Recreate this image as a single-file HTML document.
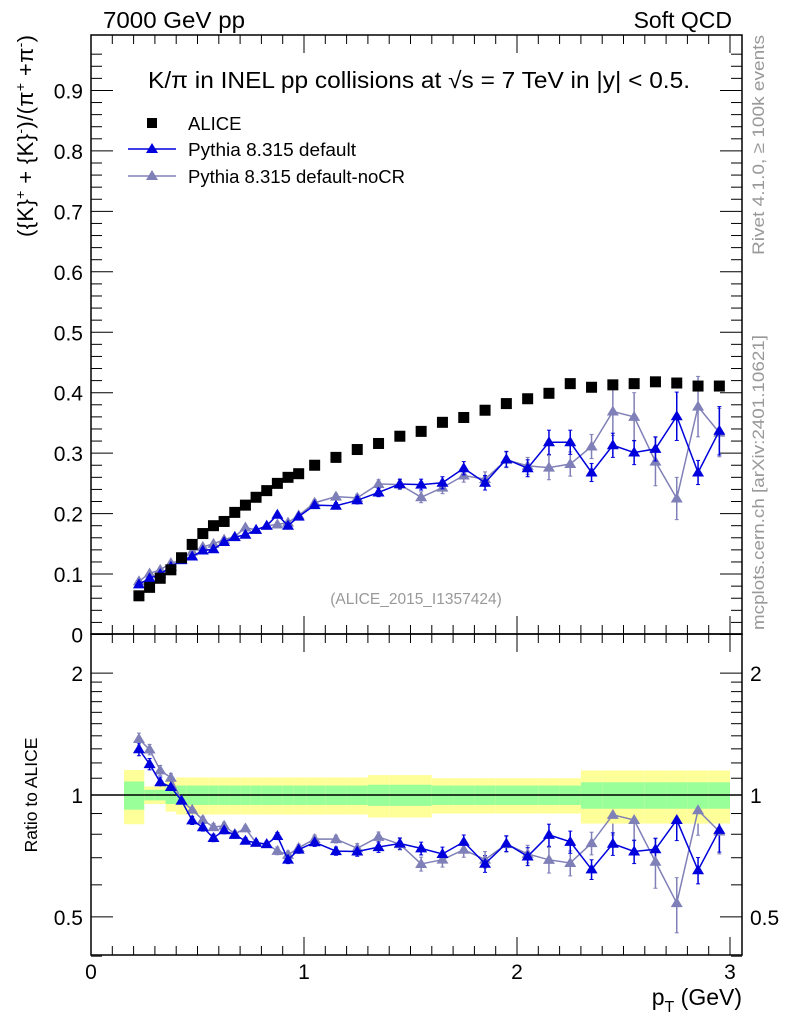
<!DOCTYPE html>
<html><head><meta charset="utf-8">
<style>
body{margin:0;background:#fff;}
svg{display:block;font-family:"Liberation Sans",Arial,sans-serif;}
</style></head>
<body>
<svg id="chart" width="786" height="1024" viewBox="0 0 786 1024" xmlns="http://www.w3.org/2000/svg">
<rect width="786" height="1024" fill="#fff"/>
<text x="103" y="28" font-size="23" textLength="142" lengthAdjust="spacingAndGlyphs">7000 GeV pp</text>
<text x="732" y="28" font-size="23" text-anchor="end">Soft QCD</text>
<g id="main"></g>
<g id="ratio"></g>
<text x="148" y="88" font-size="23" textLength="542" lengthAdjust="spacingAndGlyphs">K/π in INEL pp collisions at √s =  7 TeV in |y| &lt; 0.5.</text>
<text x="416" y="604" font-size="15.5" fill="#999" text-anchor="middle">(ALICE_2015_I1357424)</text>
<text transform="translate(33,237) rotate(-90)" font-size="22" textLength="202" lengthAdjust="spacing">({K}<tspan font-size="14" dy="-8">+</tspan><tspan dy="8"> + {K}</tspan><tspan font-size="14" dy="-8">-</tspan><tspan dy="8">)/(π</tspan><tspan font-size="14" dy="-8">+</tspan><tspan dy="8"> +π</tspan><tspan font-size="14" dy="-8">-</tspan><tspan dy="8">)</tspan></text>
<text transform="translate(37,795) rotate(-90)" font-size="17.5" text-anchor="middle">Ratio to ALICE</text>
<text x="742" y="1005" font-size="23" text-anchor="end">p<tspan font-size="16" dy="7">T</tspan><tspan dy="-7"> (GeV)</tspan></text>
<text transform="translate(764,255) rotate(-90)" font-size="17" fill="#999" textLength="220" lengthAdjust="spacingAndGlyphs">Rivet 4.1.0, ≥ 100k events</text>
<text transform="translate(764,630) rotate(-90)" font-size="17" fill="#999" textLength="295" lengthAdjust="spacingAndGlyphs">mcplots.cern.ch [arXiv:2401.10621]</text>
<g id="legend">
<rect x="147" y="118" width="10" height="10" fill="#000"/>
<text x="188" y="130" font-size="18.5">ALICE</text>
<line x1="128" y1="149" x2="176" y2="149" stroke="#0000dd" stroke-width="1.5"/>
<polygon points="152,143 158,153 146,153" fill="#0000dd"/>
<text x="188" y="156" font-size="18.5" textLength="168" lengthAdjust="spacingAndGlyphs">Pythia 8.315 default</text>
<line x1="128" y1="176" x2="176" y2="176" stroke="#8080b8" stroke-width="1.5"/>
<polygon points="152,170 158,180 146,180" fill="#8080b8"/>
<text x="188" y="183" font-size="18.5">Pythia 8.315 default-noCR</text>
</g>
</svg>
<script>
const ptBins=[0.225,0.275,0.325,0.375,0.425,0.475,0.525,0.575,0.625,0.675,0.725,0.775,0.825,0.875,0.925,0.975,1.05,1.15,1.25,1.35,1.45,1.55,1.65,1.75,1.85,1.95,2.05,2.15,2.25,2.35,2.45,2.55,2.65,2.75,2.85,2.95];
const aliceVals=[0.064,0.078,0.093,0.107,0.127,0.149,0.167,0.180,0.187,0.202,0.214,0.227,0.238,0.250,0.260,0.266,0.280,0.293,0.306,0.316,0.328,0.336,0.351,0.359,0.371,0.382,0.390,0.399,0.415,0.409,0.413,0.415,0.418,0.416,0.411,0.411];
const aliceTotErr=[0.153,0.05,0.05,0.09,0.105,0.105,0.105,0.105,0.105,0.105,0.105,0.105,0.105,0.105,0.105,0.105,0.105,0.105,0.105,0.12,0.12,0.12,0.10,0.10,0.10,0.10,0.10,0.10,0.10,0.15,0.15,0.15,0.15,0.15,0.15,0.15];
const aliceStatErr=[0.08,0.03,0.03,0.05,0.055,0.055,0.055,0.055,0.055,0.055,0.055,0.055,0.055,0.055,0.055,0.055,0.055,0.055,0.055,0.06,0.06,0.06,0.055,0.055,0.055,0.055,0.055,0.055,0.055,0.075,0.075,0.075,0.075,0.075,0.075,0.075];
const defaultVals=[0.083,0.093,0.100,0.112,0.123,0.129,0.139,0.141,0.153,0.161,0.165,0.173,0.180,0.198,0.180,0.195,0.214,0.213,0.222,0.235,0.249,0.248,0.251,0.275,0.251,0.290,0.275,0.318,0.318,0.268,0.313,0.301,0.307,0.361,0.268,0.337];
const defaultErr=[0.003,0.003,0.003,0.003,0.003,0.003,0.003,0.003,0.003,0.003,0.003,0.003,0.003,0.004,0.004,0.004,0.005,0.005,0.006,0.007,0.008,0.009,0.01,0.011,0.012,0.013,0.014,0.02,0.02,0.015,0.02,0.02,0.02,0.04,0.02,0.04];
const nocrVals=[0.088,0.101,0.107,0.118,0.123,0.137,0.145,0.150,0.157,0.162,0.177,0.173,0.180,0.182,0.185,0.197,0.218,0.228,0.226,0.249,0.248,0.227,0.243,0.263,0.257,0.289,0.279,0.276,0.282,0.311,0.369,0.360,0.286,0.225,0.377,0.334];
const nocrErr=[0.003,0.003,0.003,0.003,0.003,0.003,0.003,0.003,0.003,0.003,0.003,0.003,0.003,0.004,0.004,0.004,0.005,0.005,0.006,0.007,0.008,0.009,0.01,0.011,0.012,0.013,0.014,0.02,0.02,0.02,0.04,0.04,0.04,0.035,0.05,0.04];
const mainTicks=[0,0.1,0.2,0.3,0.4,0.5,0.6,0.7,0.8,0.9];
const ratioMajor=[0.5,1,2];
const xTicks=[0,1,2,3];

const NS="http://www.w3.org/2000/svg";
const L=91,R=742,MT=35,MB=634,RB=955;
const X=v=>L+v*213;
const YM=v=>634.5-v*604.5;
const YR=v=>795-405*Math.log10(v);
function mk(tag,attrs,parent){const e=document.createElementNS(NS,tag);for(const k in attrs)e.setAttribute(k,attrs[k]);parent.appendChild(e);return e;}
const main=document.getElementById('main'),ratio=document.getElementById('ratio');

for(let i=0;i<ptBins.length;i++){
  const lo=i==0?0.155:(ptBins[i]+ptBins[i-1])/2;
  const hi=i==ptBins.length-1?3.0:(ptBins[i]+ptBins[i+1])/2;
  const t=aliceTotErr[i],s=aliceStatErr[i];
  const y=mk('rect',{x:X(lo),y:YR(1+t),width:X(hi)-X(lo),height:YR(1-t)-YR(1+t),fill:'#ffff99'},ratio);
  
  
  const g=mk('rect',{x:X(lo),y:YR(1+s),width:X(hi)-X(lo),height:YR(1-s)-YR(1+s),fill:'#99ff99'},ratio);
  
  
}
mk('line',{x1:L,x2:R,y1:YR(1),y2:YR(1),stroke:'#000','stroke-width':1.5},ratio);

const f1=mk('rect',{x:L,y:MT,width:R-L,height:MB-MT,fill:'none',stroke:'#000','stroke-width':1.5},main);


const f2=mk('rect',{x:L,y:MB,width:R-L,height:RB-MB,fill:'none',stroke:'#000','stroke-width':1.5},ratio);



for(let v=0;v<=0.98;v+=0.02){
  const maj=Math.abs(v*10-Math.round(v*10))<1e-6, len=maj?22:11, y=YM(v);
  mk('line',{x1:L,x2:L+len,y1:y,y2:y,stroke:'#000'},main);
  mk('line',{x1:R,x2:R-len,y1:y,y2:y,stroke:'#000'},main);
}
mainTicks.forEach(v=>{
  const t=mk('text',{x:L-8,y:YM(v)+8,'font-size':21,'text-anchor':'end'},main);
  t.textContent=v===0?'0':v.toFixed(1);
  
  
});
for(let v=0;v<=3.01;v+=0.1){
  const maj=Math.abs(v-Math.round(v))<1e-6,len=maj?18:9,x=X(v);
  [[MT,1],[MB,-1],[MB,1],[RB,-1]].forEach(([y0,d])=>mk('line',{x1:x,x2:x,y1:y0,y2:y0+d*len,stroke:'#000'},main));
}
xTicks.forEach(v=>{
  const t=mk('text',{x:X(v),y:979,'font-size':21,'text-anchor':'middle'},ratio);
  t.textContent=String(v);
  
  
});
[0.4,0.5,0.6,0.7,0.8,0.9,1,1.1,1.2,1.3,1.4,1.5,1.6,1.7,1.8,1.9,2].forEach(v=>{
  const maj=ratioMajor.includes(v),len=maj?22:11,y=YR(v);
  mk('line',{x1:L,x2:L+len,y1:y,y2:y,stroke:'#000'},ratio);
  mk('line',{x1:R,x2:R-len,y1:y,y2:y,stroke:'#000'},ratio);
});
ratioMajor.forEach(v=>{
  [[L-8,'end'],[R+8,'start']].forEach(([x,a])=>{
    const t=mk('text',{x:x,y:YR(v)+8,'font-size':21,'text-anchor':a},ratio);
    t.textContent=String(v);
    
    
  });
});

function tri(x,y,c,p,name){
  const t=mk('polygon',{points:`${x},${y-6} ${x+6},${y+4} ${x-6},${y+4}`,fill:c},p);
  
  
}
function series(vals,errs,color,name){
  let pm=[],pr=[];
  vals.forEach((v,i)=>{
    const x=X(ptBins[i]),y=YM(v),r=v/aliceVals[i],er=errs[i]/aliceVals[i];
    pm.push(`${x},${y}`);pr.push(`${x},${YR(r)}`);
    [[YM(v-errs[i]),YM(v+errs[i])],[YR(r-er),YR(r+er)]].forEach(([a,b])=>{
      if(a-b>3){
        mk('line',{x1:x,x2:x,y1:a,y2:b,stroke:color,'stroke-width':1.5},main);
        mk('line',{x1:x-2,x2:x+2,y1:a,y2:a,stroke:color},main);
        mk('line',{x1:x-2,x2:x+2,y1:b,y2:b,stroke:color},main);}
    });
  });
  const l1=mk('polyline',{points:pm.join(' '),fill:'none',stroke:color,'stroke-width':1.5},main);
  
  
  const l2=mk('polyline',{points:pr.join(' '),fill:'none',stroke:color,'stroke-width':1.5},ratio);
  
  
  vals.forEach((v,i)=>{tri(X(ptBins[i]),YM(v),color,main,name+'-point');tri(X(ptBins[i]),YR(v/aliceVals[i]),color,ratio,name+'-ratio-point');});
}
series(nocrVals,nocrErr,'#8080b8','pythia-nocr');
series(defaultVals,defaultErr,'#0000dd','pythia-default');
aliceVals.forEach((v,i)=>{
  const s=mk('rect',{x:X(ptBins[i])-5.5,y:YM(v)-5.5,width:11,height:11,fill:'#000'},main);
  
  
});
</script>
</body></html>
